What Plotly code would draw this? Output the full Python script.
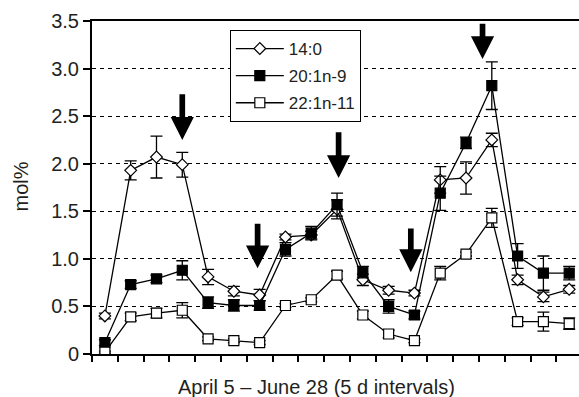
import plotly.graph_objects as go

# ---- data ----
periods = list(range(19))  # 5-day intervals, April 5 – June 28
series_names = ["14:0", "20:1n-9", "22:1n-11"]

v_14_0 = [0.40, 1.93, 2.07, 1.99, 0.81, 0.66, 0.62, 1.23, 1.25, 1.52, 0.78, 0.67, 0.64, 1.83, 1.85, 2.25, 0.78, 0.60, 0.68]
e_14_0 = [0.03, 0.10, 0.22, 0.13, 0.08, 0.05, 0.06, 0.03, 0.04, 0.10, 0.06, 0.04, 0.03, 0.14, 0.17, 0.07, 0.05, 0.05, 0.04]

v_20_1 = [0.12, 0.73, 0.79, 0.88, 0.54, 0.51, 0.51, 1.10, 1.27, 1.57, 0.86, 0.50, 0.41, 1.69, 2.22, 2.82, 1.03, 0.85, 0.85]
e_20_1 = [0.03, 0.04, 0.04, 0.10, 0.06, 0.06, 0.05, 0.07, 0.07, 0.12, 0.06, 0.07, 0.04, 0.18, 0.06, 0.25, 0.13, 0.18, 0.07]

v_22_1 = [0.02, 0.39, 0.43, 0.46, 0.16, 0.14, 0.12, 0.51, 0.57, 0.83, 0.41, 0.21, 0.14, 0.85, 1.05, 1.43, 0.34, 0.34, 0.32]
e_22_1 = [0.01, 0.04, 0.05, 0.08, 0.02, 0.02, 0.02, 0.02, 0.02, 0.04, 0.04, 0.04, 0.02, 0.07, 0.02, 0.10, 0.04, 0.10, 0.06]

y_tickvals = [0, 0.5, 1.0, 1.5, 2.0, 2.5, 3.0, 3.5]
y_ticktext = ["0", "0.5", "1.0", "1.5", "2.0", "2.5", "3.0", "3.5"]

x_title = "April 5 – June 28 (5 d intervals)"
y_title = "mol%"

# arrows: (period position, tail value, tip value)
arrow_x = [3.0, 5.92, 9.06, 11.86, 14.64]
arrow_tail = [2.73, 1.37, 2.33, 1.32, 3.47]
arrow_tip = [2.25, 0.90, 1.85, 0.86, 3.10]

FONT = "Liberation Sans, Arial, sans-serif"
TXT = "#231f20"

fig = go.Figure()

styles = [
    dict(symbol="diamond", size=9, color="white"),
    dict(symbol="square", size=10, color="black"),
    dict(symbol="square", size=10, color="white"),
]
for name, vals, errs, st in zip(series_names, [v_14_0, v_20_1, v_22_1], [e_14_0, e_20_1, e_22_1], styles):
    fig.add_trace(go.Scatter(
        x=periods, y=vals, name=name, mode="lines+markers", legendgroup=name,
        line=dict(color="black", width=1.3),
        marker=dict(symbol=st["symbol"], size=st["size"], color=st["color"],
                    line=dict(color="black", width=1.2)),
        error_y=dict(type="data", array=errs, visible=True, color="black",
                     thickness=1.3, width=6),
    ))

# arrows as filled paths
w, hw, hh = 0.11, 0.45, 0.24
for cx, tail, tip in zip(arrow_x, arrow_tail, arrow_tip):
    path = (f"M {cx-w},{tail} L {cx+w},{tail} L {cx+w},{tip+hh} L {cx+hw},{tip+hh} "
            f"L {cx},{tip} L {cx-hw},{tip+hh} L {cx-w},{tip+hh} Z")
    fig.add_shape(type="path", path=path, xref="x", yref="y",
                  fillcolor="black", line=dict(color="black", width=0))

fig.add_annotation(text=x_title, xref="paper", yref="paper", x=0.462, y=-0.099,
                   xanchor="center", yanchor="middle", showarrow=False,
                   font=dict(size=20, color=TXT))
fig.add_annotation(text=y_title, xref="paper", yref="paper", x=-0.1448, y=0.5045,
                   xanchor="center", yanchor="middle", showarrow=False, textangle=-90,
                   font=dict(size=20, color=TXT))

fig.update_layout(
    width=579, height=397,
    margin=dict(l=92, r=0, t=21, b=43),
    paper_bgcolor="white", plot_bgcolor="white",
    font=dict(family=FONT, size=20, color=TXT),
    showlegend=True,
    legend=dict(x=0.283, y=0.973, xanchor="left", yanchor="top",
                bgcolor="white", bordercolor="black", borderwidth=1,
                font=dict(size=17, color=TXT), tracegroupgap=2,
                itemwidth=48),
    xaxis=dict(
        range=[-0.5, 18.38], showgrid=False, zeroline=False,
        tickmode="array", tickvals=[i - 0.5 for i in range(20)], ticktext=[""] * 20,
        ticks="outside", ticklen=6, tickwidth=1.5, tickcolor="black",
        showline=True, linecolor="black", linewidth=1.5, mirror=True,
    ),
    yaxis=dict(
        range=[0, 3.5], tickmode="array", tickvals=y_tickvals, ticktext=y_ticktext,
        showgrid=True, gridcolor="black", gridwidth=1.3, griddash="4px,4px",
        zeroline=False,
        ticks="outside", ticklen=7, tickwidth=1.5, tickcolor="black",
        showline=True, linecolor="black", linewidth=2,
        tickfont=dict(size=20, color=TXT),
    ),
)

fig.write_html("out.html", config={"displayModeBar": False},
               post_script="document.body.style.margin='0px';")
